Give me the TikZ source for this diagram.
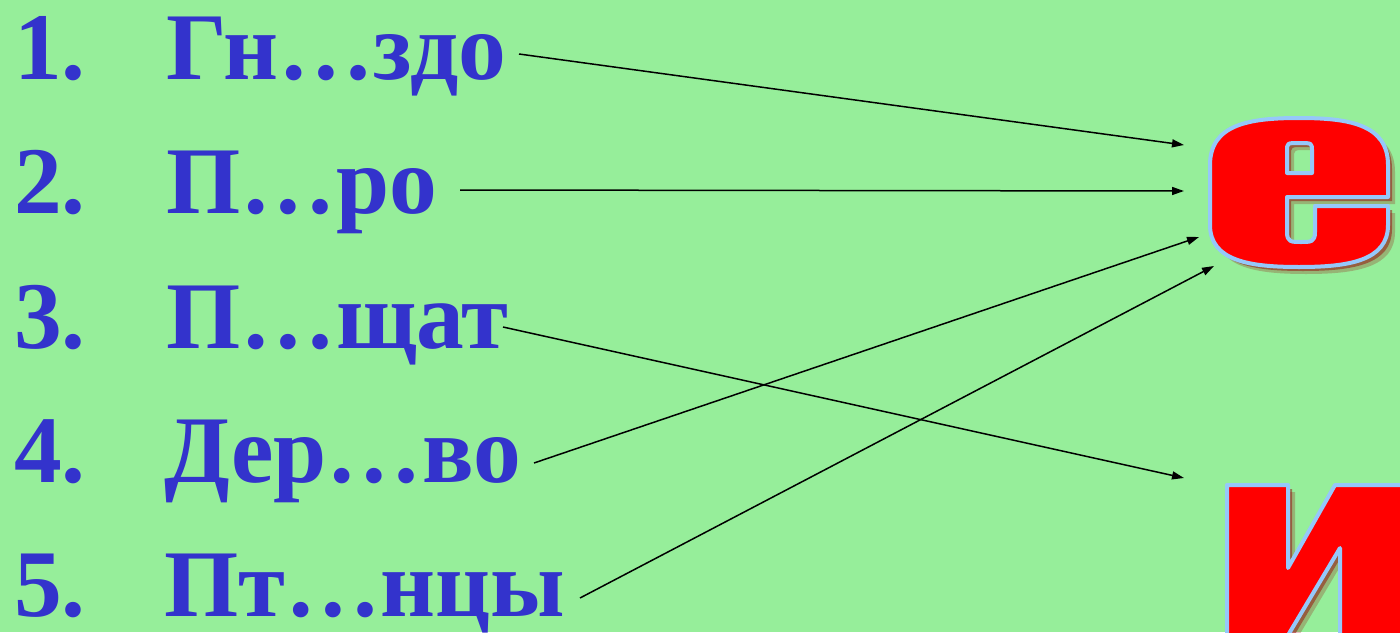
\documentclass[tikz,border=0pt]{standalone}
\usepackage{fontspec}
\setmainfont{Liberation Serif}
\usetikzlibrary{arrows.meta}
\definecolor{bg}{RGB}{150,238,154}
\definecolor{txt}{RGB}{51,51,204}
\definecolor{lred}{RGB}{255,0,0}
\definecolor{edgeblue}{RGB}{150,200,250}
\definecolor{shade}{RGB}{150,10,10}
\begin{document}
\begin{tikzpicture}[x=1pt,y=-1pt,
  item/.style={anchor=base west,inner sep=0pt,text=txt,font=\bfseries\fontsize{95.5}{95.5}\selectfont},
  link/.style={line width=1.5pt,draw=black,-{Triangle[length=12pt,width=8pt]}},
  letter/.style={fill=lred,draw=edgeblue,line width=4pt,line join=round,even odd rule},
  shadowfill/.style={fill=shade,even odd rule}]
\fill[bg] (0,0) rectangle (1400,632);
\useasboundingbox (0,0) rectangle (1400,632);

% list
\node[item] (n1) at (14,79) {1.};
\node[item] (w1) at (166,79) {Гн…здо};
\node[item] (n2) at (14,213) {2.};
\node[item] (w2) at (166,213) {П…ро};
\node[item] (n3) at (14,348) {3.};
\node[item] (w3) at (166,348) {П…щат};
\node[item] (n4) at (14,482) {4.};
\node[item] (w4) at (164,482) {Дер…во};
\node[item] (n5) at (14,616) {5.};
\node[item] (w5) at (164,616) {Пт…нцы};

% letter shapes
\def\epath{(1210,225) -- (1210,165) .. controls (1210,124) and (1250,118) .. (1299,118)
   .. controls (1348,118) and (1388,124) .. (1388,165) -- (1388,197) -- (1287,197)
   -- (1287,232) .. controls (1287,242) and (1291,242) .. (1301,242)
   .. controls (1311,242) and (1315,242) .. (1315,232) -- (1315,206) -- (1388,206)
   -- (1388,225) .. controls (1388,261) and (1348,267) .. (1299,267)
   .. controls (1250,267) and (1210,261) .. (1210,225) -- cycle
   (1287,173) -- (1287,151) .. controls (1287,143) .. (1299,143)
   .. controls (1312,143) .. (1312,151) -- (1312,173) -- cycle}
\def\ipath{(1227,485) -- (1288,485) -- (1288,568) -- (1335,485) -- (1430,485)
   -- (1430,660) -- (1340,660) -- (1340,548) -- (1275,657) -- (1275,660) -- (1227,660) -- cycle}
\begin{scope}
  \clip (0,0) rectangle (1400,632);
  \begin{scope}[shift={(7,7)}]
    \fill[shadowfill,opacity=0.25] \epath;
    \fill[shadowfill,opacity=0.25] \ipath;
  \end{scope}
  \begin{scope}[shift={(4,4)}]
    \fill[shadowfill,opacity=0.5] \epath;
    \fill[shadowfill,opacity=0.5] \ipath;
  \end{scope}
  \path[letter] \epath;
  \path[letter] \ipath;
\end{scope}

% connectors
\coordinate (s1) at (519,54);  \coordinate (t1) at (1184,145);
\coordinate (s2) at (460,190); \coordinate (t2) at (1184,191);
\coordinate (s3) at (503,327); \coordinate (t3) at (1184,478);
\coordinate (s4) at (534,463); \coordinate (t4) at (1199,237);
\coordinate (s5) at (580,598); \coordinate (t5) at (1214,266);
\draw[link] (s1) -- (t1);
\draw[link] (s2) -- (t2);
\draw[link] (s3) -- (t3);
\draw[link] (s4) -- (t4);
\draw[link] (s5) -- (t5);
\end{tikzpicture}
\end{document}
